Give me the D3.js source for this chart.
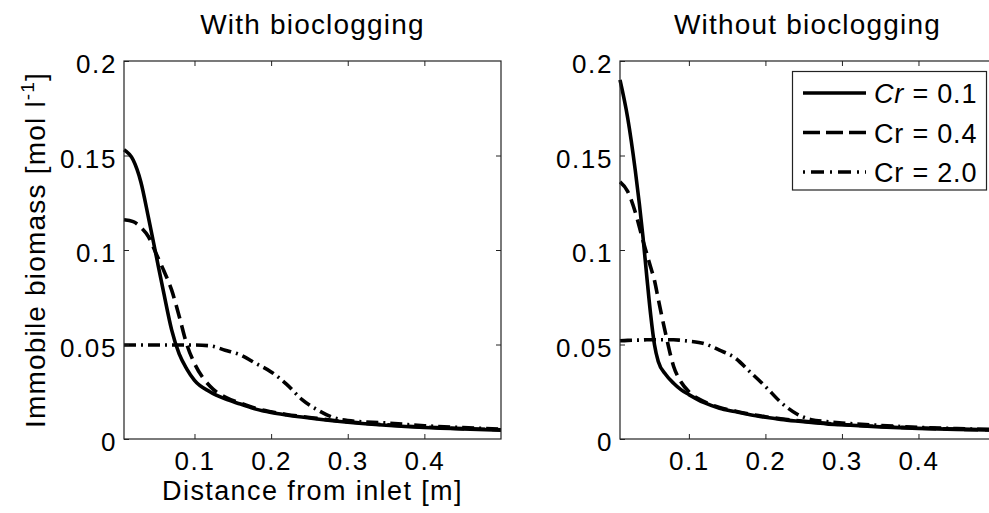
<!DOCTYPE html>
<html>
<head>
<meta charset="utf-8">
<script src="https://cdn.jsdelivr.net/npm/d3@7"></script>
<style>
  body { margin: 0; background: #fff; }
  text { font-family: "Liberation Sans", Arial, sans-serif; fill: #000; }
</style>
</head>
<body>
<div id="chart"></div>
<script>
// ---- data ----
// left panel: with bioclogging
const xWith = [0.008, 0.02, 0.03, 0.04, 0.05, 0.06, 0.07, 0.08, 0.09, 0.1, 0.12, 0.14, 0.16, 0.18, 0.2, 0.22, 0.24, 0.26, 0.28, 0.3, 0.35, 0.4, 0.45, 0.5];
const withCr01 = [0.153, 0.1476, 0.136, 0.117, 0.097, 0.077, 0.058, 0.045, 0.037, 0.031, 0.025, 0.0212, 0.0185, 0.0158, 0.014, 0.0127, 0.0116, 0.0106, 0.0097, 0.0089, 0.0073, 0.0061, 0.0053, 0.0047];
const withCr04 = [0.116, 0.115, 0.112, 0.107, 0.098, 0.089, 0.079, 0.065, 0.050, 0.040, 0.028, 0.0222, 0.019, 0.0162, 0.0144, 0.013, 0.0119, 0.0109, 0.0099, 0.0091, 0.0075, 0.0063, 0.0055, 0.0049];
const withCr20 = [0.0497, 0.0497, 0.0497, 0.0497, 0.0497, 0.0497, 0.0497, 0.0497, 0.0497, 0.0497, 0.0493, 0.047, 0.0445, 0.040, 0.0355, 0.029, 0.021, 0.0155, 0.0115, 0.0098, 0.0085, 0.0070, 0.0060, 0.0052];

// right panel: without bioclogging
const xWithout = [0.01, 0.02, 0.03, 0.04, 0.045, 0.05, 0.055, 0.06, 0.07, 0.08, 0.09, 0.1, 0.12, 0.14, 0.16, 0.18, 0.2, 0.22, 0.24, 0.26, 0.28, 0.3, 0.35, 0.4, 0.45, 0.5];
const withoutCr01 = [0.19, 0.17, 0.142, 0.107, 0.086, 0.066, 0.05, 0.041, 0.034, 0.0295, 0.026, 0.0235, 0.0192, 0.0163, 0.0145, 0.0128, 0.0115, 0.0104, 0.0095, 0.0087, 0.008, 0.0075, 0.0064, 0.0056, 0.0051, 0.0047];
const withoutCr04 = [0.136, 0.131, 0.12, 0.105, 0.098, 0.091, 0.084, 0.074, 0.055, 0.0385, 0.030, 0.025, 0.0198, 0.0167, 0.0148, 0.0131, 0.0118, 0.0107, 0.0098, 0.009, 0.0083, 0.0077, 0.0066, 0.0058, 0.0052, 0.0048];
const withoutCr20 = [0.052, 0.0522, 0.0523, 0.0524, 0.0525, 0.0525, 0.0525, 0.0525, 0.0525, 0.0525, 0.0522, 0.0518, 0.0505, 0.047, 0.043, 0.0355, 0.0278, 0.0195, 0.0135, 0.0102, 0.0092, 0.0085, 0.0072, 0.0062, 0.0055, 0.005];

const legendLabels = ['0.1', '0.4', '2.0'];
const yTicks = [0, 0.05, 0.1, 0.15, 0.2];
const yTickLabels = ['0', '0.05', '0.1', '0.15', '0.2'];
const xTicks = [0.1, 0.2, 0.3, 0.4];
const xTickLabels = ['0.1', '0.2', '0.3', '0.4'];
const titles = ['With bioclogging', 'Without bioclogging'];

// line styles per Cr value
const dashes = [null, '14,7', '12,5,2,5'];

const W = 989, H = 513;
const plotTop = 61, plotBottom = 439;

const svg = d3.select('#chart').append('svg')
  .attr('width', W)
  .attr('height', H);

const panels = [
  { left: 124, right: 501, xmin: 0.008, xs: xWith, series: [withCr01, withCr04, withCr20], title: titles[0], ylabel: true },
  { left: 620, right: 995, xmin: 0.01, xs: xWithout, series: [withoutCr01, withoutCr04, withoutCr20], title: titles[1], ylabel: false }
];

panels.forEach(p => {
  const x = d3.scaleLinear().domain([p.xmin, 0.5]).range([p.left, p.right]);
  const y = d3.scaleLinear().domain([0, 0.2]).range([plotBottom, plotTop]);
  const g = svg.append('g');

  // curves
  const line = d3.line()
    .x(d => x(d[0]))
    .y(d => y(d[1]))
    .curve(d3.curveMonotoneX);

  p.series.forEach((vals, i) => {
    const pts = p.xs.map((xv, j) => [xv, vals[j]]);
    g.append('path')
      .attr('d', line(pts))
      .attr('fill', 'none')
      .attr('stroke', '#000')
      .attr('stroke-width', 3.6)
      .attr('stroke-dasharray', dashes[i]);
  });

  // axes with inward ticks
  const axB = g.append('g').attr('transform', `translate(0,${plotBottom})`)
    .call(d3.axisBottom(x).tickValues(xTicks).tickSize(-5).tickPadding(15)
      .tickFormat((d, i) => xTickLabels[i]));
  const axT = g.append('g').attr('transform', `translate(0,${plotTop})`)
    .call(d3.axisTop(x).tickValues(xTicks).tickSize(-5).tickFormat(''));
  const axL = g.append('g').attr('transform', `translate(${p.left},0)`)
    .call(d3.axisLeft(y).tickValues(yTicks).tickSize(-5).tickPadding(7)
      .tickFormat((d, i) => yTickLabels[i]));
  const axR = g.append('g').attr('transform', `translate(${p.right},0)`)
    .call(d3.axisRight(y).tickValues(yTicks.slice(1, -1)).tickSize(-5).tickFormat(''));

  [axB, axT, axL, axR].forEach(a => {
    a.select('.domain').remove();
    a.selectAll('line').attr('stroke', '#222');
    a.selectAll('text')
      .attr('fill', '#000')
      .style('font-size', '26px')
      .style('letter-spacing', '1.6px')
      .style('font-family', '"Liberation Sans", Arial, sans-serif');
  });
  axB.selectAll('text').attr('dy', null).attr('y', 31);
  axL.selectAll('text').attr('dy', '0.46em');

  // frame
  g.append('rect')
    .attr('x', p.left).attr('y', plotTop)
    .attr('width', p.right - p.left).attr('height', plotBottom - plotTop)
    .attr('fill', 'none')
    .attr('stroke', '#222')
    .attr('stroke-width', 1.2);

  // title
  g.append('text')
    .attr('x', (p.left + p.right) / 2)
    .attr('y', 34)
    .attr('text-anchor', 'middle')
    .style('font-size', '28px')
    .style('letter-spacing', '1.2px')
    .text(p.title);

  if (p.ylabel) {
    g.append('text')
      .attr('x', (p.left + p.right) / 2)
      .attr('y', 500)
      .attr('text-anchor', 'middle')
      .style('font-size', '27px')
      .style('letter-spacing', '1.4px')
      .text('Distance from inlet [m]');

    const yl = g.append('text')
      .attr('transform', `translate(45,${(plotTop + plotBottom) / 2}) rotate(-90)`)
      .attr('text-anchor', 'middle')
      .style('font-size', '28px')
      .style('letter-spacing', '1.2px');
    yl.append('tspan').text('Immobile biomass [mol l');
    yl.append('tspan').attr('dy', -11).style('font-size', '19px').text('-1');
    yl.append('tspan').attr('dy', 11).text(']');
  }
});

// legend (right panel)
const leg = svg.append('g');
leg.append('rect')
  .attr('x', 792.5).attr('y', 71.5)
  .attr('width', 194).attr('height', 118.5)
  .attr('fill', '#fff')
  .attr('stroke', '#222')
  .attr('stroke-width', 1.2);

const rowY = d3.scalePoint().domain(legendLabels).range([93, 172]);
legendLabels.forEach((lab, i) => {
  const yy = rowY(lab);
  leg.append('line')
    .attr('x1', 803).attr('x2', 866)
    .attr('y1', yy).attr('y2', yy)
    .attr('stroke', '#000')
    .attr('stroke-width', 3.6)
    .attr('stroke-dasharray', dashes[i] === null ? null : (i === 1 ? '17,6' : '2,6,13,6'));
  const t = leg.append('text')
    .attr('x', 874)
    .attr('y', yy + 10)
    .style('font-size', '27px')
    .style('letter-spacing', '0.8px');
  t.append('tspan').style('font-style', i === 0 ? 'italic' : 'normal').text('Cr');
  t.append('tspan').text(' = ' + lab);
});
</script>
</body>
</html>
